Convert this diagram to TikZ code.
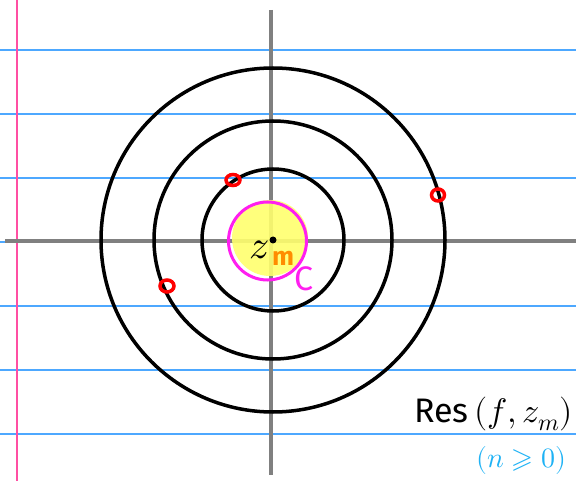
\documentclass[tikz,border=0pt]{standalone}
\usepackage{fontspec}
\usepackage{unicode-math}
\setmainfont{Fira Sans}
\setmathfont{Latin Modern Math}
\usetikzlibrary{positioning}
\definecolor{ruleblue}{HTML}{4DA8FF}
\definecolor{marginpink}{HTML}{FF4FA3}
\definecolor{axisgray}{HTML}{808080}
\definecolor{diskyellow}{HTML}{FFFF6E}
\definecolor{contourpink}{HTML}{FF1EF0}
\definecolor{indexorange}{HTML}{FF8C00}
\definecolor{notecyan}{HTML}{1EB2F5}

\begin{document}
\begin{tikzpicture}[x=1pt, y=-1pt, every node/.style={inner sep=0pt}]
    \useasboundingbox (0,0) rectangle (576,481);
    \fill[white] (0,0) rectangle (576,481);

    % Notebook paper
    \foreach \ly in {50, 114, 178, 242, 306, 370, 434} {
        \draw[ruleblue, line width=1.5pt] (0, \ly) -- (576, \ly);
    }
    \draw[marginpink, line width=2.5pt] (17, 0) -- (17, 481);

    % Axes
    \draw[axisgray, line width=3.5pt] (5, 241) -- (576, 241);
    \draw[axisgray, line width=3.5pt] (271, 10) -- (271, 475);

    % Small disc around the pole and its contour
    \fill[diskyellow, opacity=0.9] (270, 238) circle (38);
    \draw[contourpink, line width=3pt] (267.5, 241) circle (39);

    % Annuli
    \foreach \r in {71, 119, 172} {
        \draw[black, line width=3.5pt] (273, 240) circle (\r);
    }

    % Poles on the circles
    \draw[red, line width=3.5pt] (233, 180) ellipse (7 and 5.5);
    \draw[red, line width=3.5pt] (438, 195) ellipse (6.5 and 6);
    \draw[red, line width=3.5pt] (167, 286) ellipse (7 and 6);

    % Labels
    \fill[black] (273, 240) circle (3.5);
    \node[font=\fontsize{40}{40}\selectfont] (zlab) at (259, 250) {$z$};
    \node[font=\fontsize{26}{26}\selectfont\bfseries, color=indexorange] (mlab) at (283, 258) {m};
    \node[font=\fontsize{34}{34}\selectfont, color=contourpink] (clab) at (304, 279) {C};
    \node[font=\fontsize{34}{34}\selectfont, anchor=west] (res) at (414, 414) {Res\,$(f,z_m)$};
    \node[font=\fontsize{28}{28}\selectfont, color=notecyan, anchor=west] (cond) at (476, 460) {$(n\geqslant 0)$};
\end{tikzpicture}
\end{document}
